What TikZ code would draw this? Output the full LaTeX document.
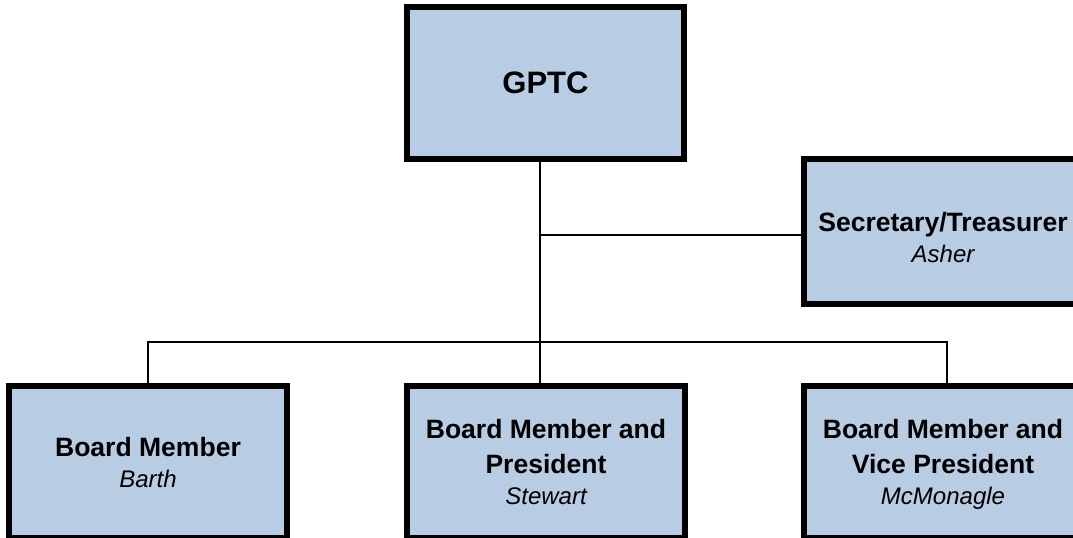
\documentclass[tikz,border=0pt]{standalone}
\usepackage{fontspec}
\setmainfont{Liberation Sans}
\definecolor{boxblue}{HTML}{B8CCE4}
\begin{document}
\begin{tikzpicture}[x=0.75pt,y=-0.75pt,
  orgbox/.style={draw=black,fill=boxblue,line width=4.5pt,rectangle,inner sep=0pt,
    minimum width=208pt,minimum height=114pt,align=center,
    font={\fontsize{19.9}{26.25}\selectfont\bfseries}},
  boxtext/.style={inner sep=0pt,align=center,
    font={\fontsize{19.9}{26.25}\selectfont\bfseries}},
  conn/.style={draw=black,line width=1.1pt}]
\useasboundingbox (0,0) rectangle (1073,538);
\clip (0,0) rectangle (1073,538);
\node[orgbox,font={\fontsize{23.25}{28}\selectfont\bfseries}] (gptc) at (545.5,83) {GPTC};
\node[orgbox,minimum height=108.75pt] (sec) at (943,231.5) {};
\node[boxtext] (sectext) at (943,237.5)
  {Secretary/Treasurer\\[-3pt]{\fontsize{18}{22}\selectfont\mdseries\itshape Asher}};
\node[orgbox] (barth) at (148,462)
  {Board Member\\[-3pt]{\fontsize{18}{22}\selectfont\mdseries\itshape Barth}};
\node[orgbox] (pres) at (546,462)
  {Board Member and\\President\\[-3pt]{\fontsize{18}{22}\selectfont\mdseries\itshape Stewart}};
\node[orgbox] (vp) at (943,462)
  {Board Member and\\Vice President\\[-3pt]{\fontsize{18}{22}\selectfont\mdseries\itshape \raisebox{0pt}[\height][0pt]{McMonagle}}};
\coordinate (j1) at (540,235);
\coordinate (bL) at (148,342);
\coordinate (bR) at (947,342);
\draw[conn] (gptc.south -| j1) -- (pres.north -| j1);
\draw[conn] (j1) -- (sec.west |- j1);
\draw[conn] (barth.north -| bL) -- (bL) -- (bR) -- (vp.north -| bR);
\end{tikzpicture}
\end{document}
